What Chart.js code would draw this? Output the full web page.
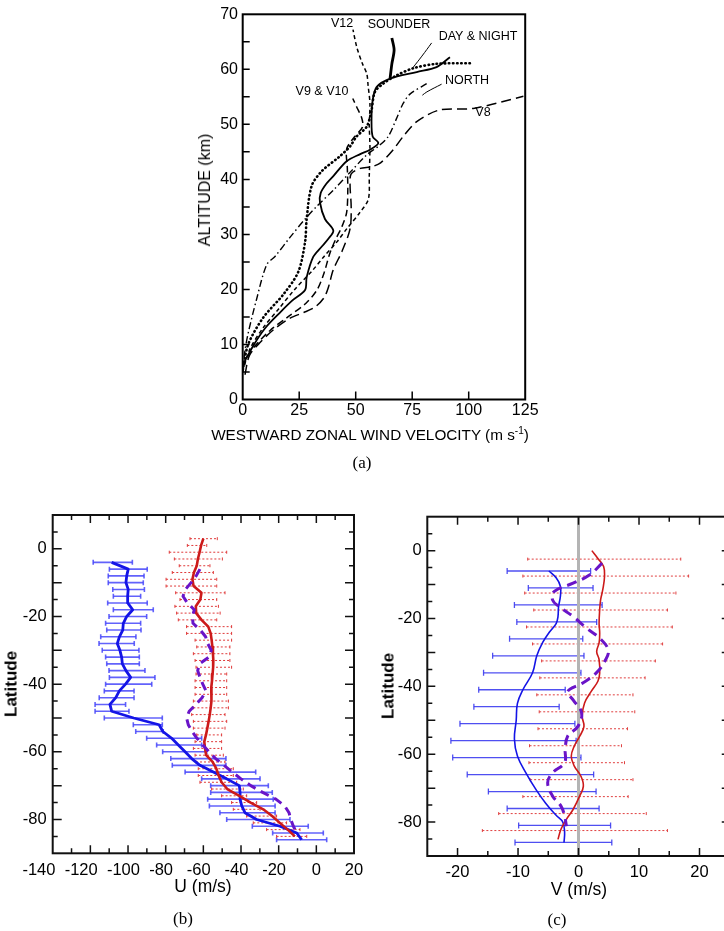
<!DOCTYPE html>
<html>
<head>
<meta charset="utf-8">
<script src="https://cdn.jsdelivr.net/npm/chart.js@4.4.1/dist/chart.umd.min.js"></script>
<style>
  html, body { margin: 0; padding: 0; background: #fff; }
  body { width: 724px; height: 931px; overflow: hidden; position: relative; font-family: "Liberation Sans", Arial, sans-serif; color: #000; }
  .box { position: absolute; }
  .t { position: absolute; white-space: nowrap; transform: translate(-50%, -50%); line-height: 1; }
  .rot { transform: translate(-50%, -50%) rotate(-90deg); }
  .lbl { font-size: 12.5px; }
  .cap { font-family: "Liberation Serif", "Times New Roman", serif; font-size: 17px; }
</style>
</head>
<body>
<div class="box" style="left:150px;top:0;width:400px;height:450px"><canvas id="chart-a"></canvas></div>
<div class="box" style="left:0;top:495px;width:370px;height:395px"><canvas id="chart-b"></canvas></div>
<div class="box" style="left:370px;top:495px;width:380px;height:395px"><canvas id="chart-c"></canvas></div>

<!-- panel (a) texts -->
<div class="t rot" style="left:205px;top:190px;font-size:16px">ALTITUDE (km)</div>
<div class="t" style="left:370px;top:435px;font-size:15.3px">WESTWARD ZONAL WIND VELOCITY (m s<sup style="font-size:10px;line-height:0">-1</sup>)</div>
<div class="t cap" style="left:362px;top:462px">(a)</div>
<div class="t lbl" style="left:342px;top:23px">V12</div>
<div class="t lbl" style="left:399px;top:24px">SOUNDER</div>
<div class="t lbl" style="left:478px;top:36px">DAY &amp; NIGHT</div>
<div class="t lbl" style="left:467px;top:80px">NORTH</div>
<div class="t lbl" style="left:322px;top:91px">V9 &amp; V10</div>
<div class="t lbl" style="left:483px;top:112px">V8</div>

<!-- panel (b) texts -->
<div class="t rot" style="left:11px;top:684px;font-size:17px;font-weight:bold">Latitude</div>
<div class="t" style="left:203px;top:887px;font-size:17.5px">U (m/s)</div>
<div class="t cap" style="left:183px;top:918px">(b)</div>

<!-- panel (c) texts -->
<div class="t rot" style="left:388px;top:686px;font-size:17px;font-weight:bold">Latitude</div>
<div class="t" style="left:579px;top:890px;font-size:17.5px">V (m/s)</div>
<div class="t cap" style="left:557px;top:919px">(c)</div>

<script>
/* ---------- panel (a): westward zonal wind vs altitude ---------- */
const aTickX = [0, 25, 50, 75, 100, 125];
const aTickY = [0, 10, 20, 30, 40, 50, 60, 70];
const aInnerY = [5, 10, 15, 20, 25, 30, 35, 40, 45, 50, 55, 60, 65];
const aInnerX = [25, 50, 75, 100];

const sounderU   = [65.2, 66, 67, 66];
const sounderAlt = [58.3, 61, 63.5, 65.7];
const profileU   = [0.3, 5, 10, 16.5, 22, 27.6, 28.3, 31.2, 35, 37.9, 40.1, 36.4, 34.2, 34.5, 37, 40.1, 46, 52, 56.3, 60, 57.5, 57, 57.5, 59.3, 65.2, 77, 85.8, 91.7];
const profileAlt = [6.5, 10, 13, 15.8, 18, 19.9, 22.2, 25.9, 27.8, 29.2, 30.7, 32.8, 35.8, 37.5, 39.2, 40.6, 43.3, 44.6, 45.4, 46.6, 47.8, 50.8, 54.4, 56.8, 58.3, 59.5, 60.4, 62.2];
const dayNightU   = [0.3, 2.5, 9.1, 18, 24.6, 27.6, 28.3, 30.5, 35, 43, 47.5, 50.4, 54.9, 57, 58.5, 62.2, 68.1, 75.5, 85.8, 101.3];
const dayNightAlt = [6, 10.1, 14.9, 19.1, 23.2, 28.6, 32.8, 38.8, 41.5, 44.2, 46, 47.8, 49.6, 52.6, 55.9, 57.4, 58.9, 60.2, 61, 61.1];
const northU   = [0, 1, 2.5, 6, 10.6, 14.3, 21, 27.6, 33, 40, 48, 55, 60, 64.4, 68, 71, 74, 81.4];
const northAlt = [5, 8.9, 12.2, 18, 24.5, 26, 29.5, 32.8, 35.2, 38, 41.5, 44.5, 46, 47.8, 51, 53.8, 55.5, 57.4];
const v12U   = [0, 3, 9, 16, 23, 31, 36, 41.6, 46, 51.9, 55.6, 56, 56.3, 56, 56.3, 55.5, 54.9, 53, 50.5, 48.8];
const v12Alt = [5, 9, 13, 16.5, 20, 23.5, 26, 28.6, 31, 34, 36.4, 40.6, 46, 50, 53.8, 57, 59.2, 61, 64, 67.2];
const v910U   = [0, 4, 12, 20, 28, 33, 36, 38.5, 41, 44, 46, 46.5, 46.3, 46, 49, 53, 52.7, 50.4, 48.7];
const v910Alt = [6, 9, 12.5, 15, 17.5, 20, 23, 26.5, 29, 31.5, 34, 38, 42, 45.5, 47.5, 49.5, 51.1, 53.2, 54.7];
const v8U   = [1, 3, 8, 14, 21, 27, 32, 36, 38, 40, 44, 47.5, 48, 47.5, 48, 52, 57, 61, 66.6, 71, 77, 87, 102, 124.2];
const v8Alt = [4.5, 8, 10.5, 12.8, 14.8, 15.8, 16.8, 18.5, 20.5, 23.5, 27, 31, 35, 39, 41, 42, 42.3, 43, 45.4, 47.8, 50.5, 52.6, 52.9, 55.1];
const dayNightLeaderU   = [75.5, 79.3, 83.6];
const dayNightLeaderAlt = [60.4, 62.4, 64.8];
const northLeaderU   = [79.5, 81.5, 88];
const northLeaderAlt = [55.3, 55.9, 57.3];

/* ---------- panel (b): U vs latitude ---------- */
const bTickX = [-140, -120, -100, -80, -60, -40, -20, 0, 20];
const bTickY = [-80, -60, -40, -20, 0];
const bMajorX = [-120, -100, -80, -60, -40, -20, 0];
const bMinorX = [-130, -110, -90, -70, -50, -30, -10, 10];
const bMajorY = [0, -10, -20, -30, -40, -50, -60, -70, -80];
const bMinorY = [5, -5, -15, -25, -35, -45, -55, -65, -75, -85];

const bBlueLat = [-4, -6, -8, -10, -12, -14, -16, -18, -20, -22, -24, -26, -28, -30, -32, -34, -36, -38, -40, -42, -44, -46, -48, -50, -52, -54, -56, -58, -60, -62, -64, -66, -68, -70, -72, -74, -76, -78, -80, -82, -84, -86];
const bBlueU  = [-108.7, -99.9, -100.7, -101.1, -99.9, -100.2, -100.2, -97.5, -100.7, -102.5, -102.8, -104.6, -105.7, -104.3, -103.4, -103.0, -101.1, -98.6, -101.3, -104.6, -106.5, -109.6, -108.7, -97.0, -83.5, -81.5, -76.8, -73.3, -69.7, -66.2, -61.8, -54.7, -47.6, -40.9, -40.5, -40.5, -39.6, -37.9, -31.7, -19.3, -10.4, -7.8];
const bBlueLo = [-118.5, -109.9, -110.5, -110.5, -108.1, -107.8, -110.8, -107.8, -110.1, -111.9, -111.3, -114.5, -115.4, -113.7, -111.9, -111.3, -110.1, -109.9, -111.9, -112.6, -115.3, -117.5, -117.5, -112.6, -97.2, -95.9, -90.1, -84.8, -81.6, -77.3, -76.5, -69.7, -60.9, -56.1, -56.1, -57.7, -56.8, -51.2, -47.6, -34.0, -23.2, -21.1];
const bBlueHi = [-97.7, -89.8, -91.5, -91.9, -91.3, -93.3, -89.8, -86.6, -90.1, -93.3, -93.1, -95.8, -96.7, -94.2, -94.0, -94.0, -91.0, -85.7, -87.4, -96.8, -96.8, -101.3, -99.5, -81.8, -81.8, -81.3, -60.9, -60.9, -58.2, -48.0, -48.0, -32.2, -29.9, -25.5, -23.4, -22.9, -21.9, -21.9, -14.0, -4.3, 3.7, 5.5];

const bRedLat = [3, 1, -1, -3, -5, -7, -9, -11, -13, -15, -17, -19, -21, -23, -25, -27, -29, -31, -33, -35, -37, -39, -41, -43, -45, -47, -49, -51, -53, -55, -57, -59, -61, -63, -65, -67, -69, -71, -73, -75, -77, -79, -81, -83, -85];
const bRedU  = [-60.0, -61.2, -62.0, -62.9, -63.5, -65.0, -65.8, -65.2, -61.0, -61.6, -64.0, -63.8, -61.0, -57.4, -56.1, -55.6, -55.2, -54.9, -54.7, -54.8, -55.1, -55.4, -55.8, -55.8, -55.6, -56.1, -56.6, -57.2, -57.9, -58.6, -59.5, -59.1, -58.5, -55.1, -53.1, -51.9, -50.3, -47.3, -40.9, -34.9, -28.2, -23.5, -19.4, -15.2, -11.4];
const bRedLo = [-67.1, -68.5, -78.1, -75.4, -72.8, -76.5, -79.8, -79.8, -74.7, -72.4, -75.1, -74.2, -73.3, -68.9, -68.9, -64.4, -63.5, -65.3, -64.4, -63.9, -63.9, -64.4, -64.4, -64.4, -65.3, -65.3, -66.2, -65.3, -65.3, -63.5, -64.4, -65.3, -64.4, -63.9, -62.7, -62.7, -61.8, -55.6, -50.3, -45.0, -44.1, -37.0, -33.5, -26.4, -21.1];
const bRedHi = [-52.6, -58.2, -47.6, -49.9, -56.5, -54.7, -52.9, -52.9, -48.5, -52.9, -52.0, -51.1, -52.9, -45.0, -45.0, -45.0, -45.9, -45.9, -45.9, -45.0, -47.6, -47.6, -47.6, -47.6, -46.7, -46.7, -48.5, -47.6, -48.5, -50.3, -50.3, -50.3, -49.4, -48.5, -44.1, -44.1, -42.3, -38.8, -37.0, -31.7, -29.9, -21.1, -15.8, -8.7, -5.1];

const bPurpleLat = [-6, -8, -10, -12, -14, -16, -18, -20, -22, -24, -26, -28, -30, -32, -34, -36, -38, -40, -42, -44, -46, -48, -50, -52, -54, -56, -58, -60, -62, -64, -66, -68, -70, -72, -74, -76, -78, -80, -82, -84];
const bPurpleU  = [-61.8, -63.8, -66.5, -69.5, -70.8, -68.5, -64.8, -65.8, -65.5, -61.6, -58.8, -57.7, -55.8, -57.0, -62.0, -63.0, -61.8, -60.3, -58.6, -60.7, -64.0, -67.5, -68.9, -68.0, -66.0, -63.4, -60.3, -57.0, -53.5, -49.0, -44.6, -40.0, -34.8, -28.5, -21.5, -16.8, -14.5, -13.6, -12.2, -10.4];

/* ---------- panel (c): V vs latitude ---------- */
const cTickX = [-20, -10, 0, 10, 20];
const cTickY = [-80, -60, -40, -20, 0];
const cMajorX = [-20, -10, 0, 10, 20];
const cMinorX = [-15, -5, 5, 15];
const cMajorY = [0, -10, -20, -30, -40, -50, -60, -70, -80];
const cMinorY = [5, -5, -15, -25, -35, -45, -55, -65, -75, -85];

const cBlueBarLat = [-6, -11, -16, -21, -26, -31, -36, -41, -46, -51, -56, -61, -66, -71, -76, -81, -86];
const cBlueLo = [-11.8, -8.3, -10.6, -10.2, -11.4, -14.2, -15.7, -16.5, -17.3, -19.6, -21.1, -20.8, -18.4, -14.9, -11.8, -9.9, -10.5];
const cBlueHi = [2.0, 2.4, 3.9, 3.0, 0.7, 0.9, 0.4, -2.2, -3.2, -0.6, -0.4, 0.4, 2.5, 2.9, 3.4, 5.3, 5.5];
const cBlueLat = [-6, -8, -10.5, -13.5, -16.5, -19.5, -21.5, -24, -27, -31, -36, -41, -45, -50, -55.5, -60.5, -65.5, -70.5, -74.5, -78, -80, -83, -86];
const cBlueV   = [-4.9, -3.7, -3.0, -3.0, -3.3, -3.4, -3.7, -4.8, -5.9, -6.9, -7.6, -9.2, -10.1, -10.3, -10.6, -10.1, -8.7, -7.0, -5.4, -3.7, -2.6, -2.3, -2.4];

const cRedBarLat = [-2.5, -7.5, -12.5, -17.5, -22.5, -27.5, -32.5, -37.5, -42.5, -47.5, -52.5, -57.5, -62.5, -67.5, -72.5, -77.5, -82.5];
const cRedLo = [-8.4, -9.2, -8.9, -7.4, -8.6, -7.6, -6.1, -6.4, -6.9, -6.5, -6.7, -8.1, -8.2, -8.0, -9.2, -13.2, -15.9];
const cRedHi = [16.9, 18.2, 16.1, 14.7, 15.5, 13.9, 12.7, 11.0, 9.0, 9.3, 8.1, 7.1, 7.6, 9.0, 8.2, 11.2, 14.7];
const cRedLat = [0, -2.3, -4.7, -7.6, -11.6, -14.5, -17.4, -21.4, -24.3, -27.2, -29.7, -32.1, -36.1, -38.5, -41.5, -44.9, -48.8, -51.8, -54.7, -57.6, -60.6, -63.5, -66.5, -69.4, -72.3, -76.3, -79.2, -82.1, -85.1];
const cRedV   = [2.2, 3.2, 4.15, 4.3, 4.0, 3.65, 3.5, 3.4, 3.5, 3.4, 3.0, 3.4, 3.5, 3.2, 2.1, 1.0, 0.6, 0.9, 0.2, -0.7, -1.2, -0.7, 0.4, 0.8, 0.2, -0.9, -2.0, -2.9, -3.4];

const cPurpleLat = [-3.7, -7.2, -9.6, -12, -14.5, -16.5, -19.4, -22.8, -25.8, -29.2, -32.1, -36.1, -39, -41.5, -44, -47.8, -51.8, -54.7, -58.6, -62.5, -65.5, -68.4, -72.3, -75.3, -78.2, -81.2];
const cPurpleV   = [3.9, 1.8, -0.9, -4.0, -4.3, -3.2, -0.9, 1.3, 3.5, 4.9, 4.5, 2.9, 0.7, -1.8, -0.9, 0.5, -0.1, -1.8, -2.2, -2.3, -4.3, -5.1, -4.3, -2.9, -2.3, -2.0];
const cZeroV   = [0, 0];
const cZeroLat = [10, -90];

/* ---------- helpers ---------- */
const FONT = '"Liberation Sans", Arial, Helvetica, sans-serif';
const BLUE = '#1414e6';
const RED = '#cc1a1a';
const PURPLE = '#6a14c8';
const FIG_SP = '\u2007';

function pts(xs, ys) {
  return xs.map((x, i) => ({ x: x, y: ys[i] }));
}

function lineSet(label, xs, ys, color, width, dash, tension, cap) {
  return {
    label: label,
    data: pts(xs, ys),
    showLine: true,
    borderColor: color,
    backgroundColor: color,
    borderWidth: width,
    borderDash: dash || [],
    borderCapStyle: cap || 'butt',
    borderJoinStyle: 'round',
    pointRadius: 0,
    pointHoverRadius: 0,
    tension: tension || 0,
    fill: false
  };
}

function axis(min, max, tickVals, o) {
  return {
    type: 'linear',
    min: min,
    max: max,
    grid: { display: false, drawTicks: false },
    border: { display: false },
    ticks: {
      color: '#000',
      font: { family: FONT, size: o.size },
      padding: o.pad,
      maxRotation: 0,
      autoSkip: false,
      callback: o.fmt || (v => String(v))
    },
    afterBuildTicks: s => { s.ticks = tickVals.map(v => ({ value: v })); },
    afterFit: s => {
      if (o.w) s.width = o.w;
      if (o.h) s.height = o.h;
    }
  };
}

// the U labels in (b) sit a little left of their ticks, more so at the far left
function bLabel(v) {
  if (v >= 0) return String(v);
  if (v <= -140) return v + FIG_SP.repeat(3);
  if (v <= -120) return v + FIG_SP.repeat(2);
  return v + FIG_SP;
}

// box round the plot with inward tick marks
function framePlugin(specs, lw, color) {
  return {
    id: 'frame',
    afterDatasetsDraw(chart) {
      const { ctx, chartArea: a, scales } = chart;
      ctx.save();
      ctx.strokeStyle = color;
      ctx.setLineDash([]);
      ctx.lineWidth = lw;
      ctx.strokeRect(a.left, a.top, a.right - a.left, a.bottom - a.top);
      ctx.lineWidth = 1.5;
      ctx.beginPath();
      specs.forEach(t => {
        const sc = scales[t.axis];
        t.values.forEach(v => {
          const p = sc.getPixelForValue(v);
          t.sides.forEach(side => {
            if (side === 'left') { ctx.moveTo(a.left, p); ctx.lineTo(a.left + t.len, p); }
            if (side === 'right') { ctx.moveTo(a.right, p); ctx.lineTo(a.right - t.len, p); }
            if (side === 'bottom') { ctx.moveTo(p, a.bottom); ctx.lineTo(p, a.bottom - t.len); }
            if (side === 'top') { ctx.moveTo(p, a.top); ctx.lineTo(p, a.top + t.len); }
          });
        });
      });
      ctx.stroke();
      ctx.restore();
    }
  };
}

// horizontal error bars with end caps
function errorBarPlugin(sets) {
  return {
    id: 'errbars',
    beforeDatasetsDraw(chart) {
      const { ctx, chartArea: a, scales: { x, y } } = chart;
      ctx.save();
      ctx.beginPath();
      ctx.rect(a.left, a.top, a.right - a.left, a.bottom - a.top);
      ctx.clip();
      sets.forEach(s => {
        ctx.strokeStyle = s.color;
        ctx.lineWidth = s.width;
        s.lat.forEach((lat, i) => {
          const py = y.getPixelForValue(lat);
          const x1 = x.getPixelForValue(s.lo[i]);
          const x2 = x.getPixelForValue(s.hi[i]);
          ctx.setLineDash(s.dash);
          ctx.beginPath();
          ctx.moveTo(x1, py);
          ctx.lineTo(x2, py);
          ctx.stroke();
          ctx.setLineDash([]);
          ctx.beginPath();
          ctx.moveTo(x1, py - s.cap); ctx.lineTo(x1, py + s.cap);
          ctx.moveTo(x2, py - s.cap); ctx.lineTo(x2, py + s.cap);
          ctx.stroke();
        });
      });
      ctx.restore();
    }
  };
}

function baseOptions(padding, scales) {
  return {
    responsive: true,
    maintainAspectRatio: false,
    animation: false,
    events: [],
    layout: { padding: padding },
    plugins: { legend: { display: false }, tooltip: { enabled: false } },
    scales: scales
  };
}

/* ---------- chart (a) ---------- */
new Chart(document.getElementById('chart-a'), {
  type: 'scatter',
  data: {
    datasets: [
      lineSet('Sounder', sounderU, sounderAlt, '#000', 2.8, [], 0.3),
      lineSet('Profile', profileU, profileAlt, '#000', 1.8, [], 0.3),
      lineSet('Day & Night', dayNightU, dayNightAlt, '#000', 2.6, [0.5, 3.6], 0.3, 'round'),
      lineSet('North', northU, northAlt, '#000', 1.4, [7, 3, 1.5, 3], 0.3),
      lineSet('V12', v12U, v12Alt, '#000', 1.5, [4, 3], 0.3),
      lineSet('V9 & V10', v910U, v910Alt, '#000', 1.5, [7, 4], 0.3),
      lineSet('V8', v8U, v8Alt, '#000', 1.5, [10, 5], 0.3),
      lineSet('leader1', dayNightLeaderU, dayNightLeaderAlt, '#000', 1, [], 0.4),
      lineSet('leader2', northLeaderU, northLeaderAlt, '#000', 1, [], 0.4)
    ]
  },
  options: baseOptions({ top: 9.5, right: 24.8, left: 0, bottom: 0 }, {
    x: axis(0, 125, aTickX, { size: 16, pad: 1.5, h: 50.5 }),
    y: axis(0, 70, aTickY, { size: 16, pad: 4.7, w: 92.7 })
  }),
  plugins: [framePlugin([
    { axis: 'y', sides: ['left'], values: aInnerY, len: 7 },
    { axis: 'x', sides: ['bottom'], values: aInnerX, len: 8 }
  ], 2, '#000')]
});

/* ---------- chart (b) ---------- */
new Chart(document.getElementById('chart-b'), {
  type: 'scatter',
  data: {
    datasets: [
      lineSet('Purple', bPurpleU, bPurpleLat, PURPLE, 3, [9, 6]),
      lineSet('Red', bRedU, bRedLat, RED, 2.6),
      lineSet('Blue', bBlueU, bBlueLat, BLUE, 2.8)
    ]
  },
  options: baseOptions({ top: 20, right: 16, left: 0, bottom: 0 }, {
    x: axis(-140, 20, bTickX, { size: 16.5, pad: 6.8, h: 36.7, fmt: bLabel }),
    y: axis(-90, 10, bTickY, { size: 16.5, pad: 6, w: 52.7 })
  }),
  plugins: [
    errorBarPlugin([
      { lat: bBlueLat, lo: bBlueLo, hi: bBlueHi, color: 'rgba(70,70,250,0.85)', width: 1.6, dash: [], cap: 2.5 },
      { lat: bRedLat, lo: bRedLo, hi: bRedHi, color: '#e03a3a', width: 1, dash: [2, 2], cap: 1.5 }
    ]),
    framePlugin([
      { axis: 'y', sides: ['left', 'right'], values: bMajorY, len: 9 },
      { axis: 'y', sides: ['left', 'right'], values: bMinorY, len: 5 },
      { axis: 'x', sides: ['bottom', 'top'], values: bMajorX, len: 8 },
      { axis: 'x', sides: ['bottom', 'top'], values: bMinorX, len: 5 }
    ], 2, '#111')
  ]
});

/* ---------- chart (c) ---------- */
new Chart(document.getElementById('chart-c'), {
  type: 'scatter',
  data: {
    datasets: [
      lineSet('Purple', cPurpleV, cPurpleLat, PURPLE, 3, [10, 6], 0.4),
      lineSet('Red', cRedV, cRedLat, RED, 1.6, [], 0.4),
      lineSet('Blue', cBlueV, cBlueLat, BLUE, 1.6, [], 0.4),
      lineSet('Zero', cZeroV, cZeroLat, '#b4b4b4', 3)
    ]
  },
  options: baseOptions({ top: 21.7, right: 20.25, left: 0, bottom: 0 }, {
    x: axis(-25, 25, cTickX, { size: 16.5, pad: 6.1, h: 34 }),
    y: axis(-90, 10, cTickY, { size: 16.5, pad: 5.6, w: 57.3 })
  }),
  plugins: [
    errorBarPlugin([
      { lat: cBlueBarLat, lo: cBlueLo, hi: cBlueHi, color: 'rgba(60,60,240,0.9)', width: 1.3, dash: [], cap: 3 },
      { lat: cRedBarLat, lo: cRedLo, hi: cRedHi, color: '#e04040', width: 1, dash: [2, 2], cap: 1.5 }
    ]),
    framePlugin([
      { axis: 'y', sides: ['left', 'right'], values: cMajorY, len: 8 },
      { axis: 'y', sides: ['left', 'right'], values: cMinorY, len: 5 },
      { axis: 'x', sides: ['bottom', 'top'], values: cMajorX, len: 8 },
      { axis: 'x', sides: ['bottom', 'top'], values: cMinorX, len: 5 }
    ], 2, '#111')
  ]
});
</script>
</body>
</html>
